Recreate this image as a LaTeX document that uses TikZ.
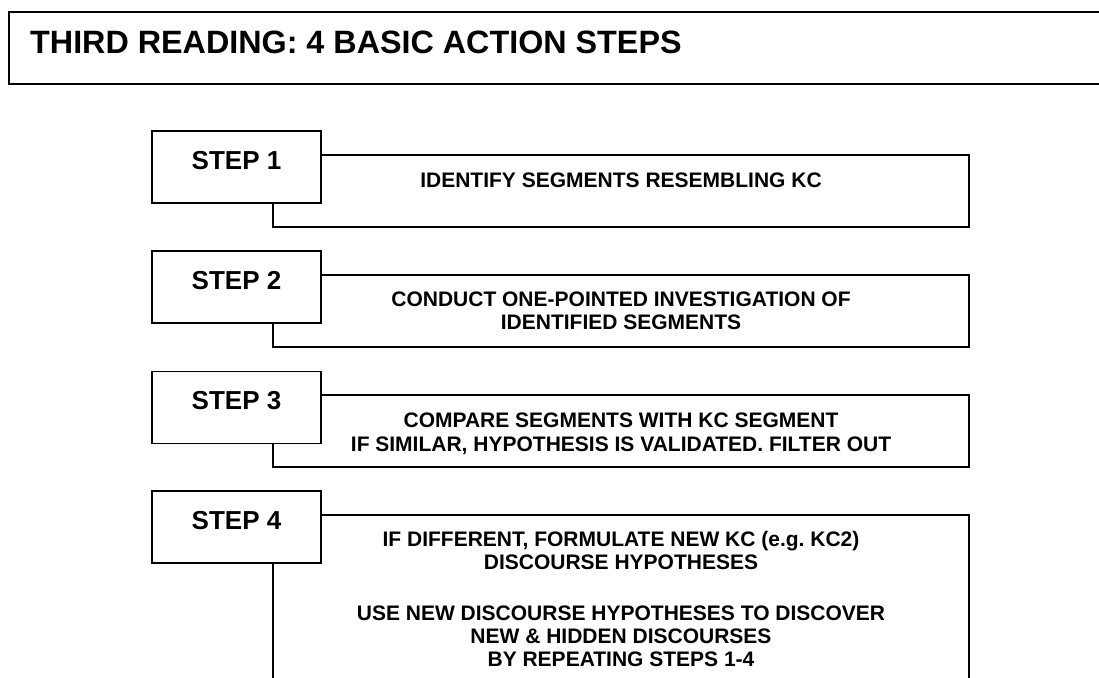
\documentclass[tikz,border=0pt]{standalone}
\usepackage{fontspec}
\setmainfont{Liberation Sans}
\frenchspacing
\begin{document}
\begin{tikzpicture}[x=1pt,y=-1pt,
  stepbox/.style={draw, line width=1.2pt, fill=white, minimum width=169pt, minimum height=72pt, inner sep=0pt},
  textbox/.style={draw, line width=1.2pt, fill=white, minimum width=696pt, inner sep=0pt},
  steplabel/.style={font=\bfseries\fontsize{26}{30}\selectfont, anchor=base, inner sep=0pt},
  body/.style={font=\bfseries\fontsize{21}{23}\selectfont, anchor=base, inner sep=0pt},
]
\useasboundingbox (0,0) rectangle (1099,677);
\clip (0,0) rectangle (1099,677);

% title
\node (titlebox) [draw, line width=1.6pt, minimum width=1112pt, minimum height=72pt, anchor=north west, inner sep=0pt] at (8,11) {};
\node (title) [anchor=base west, inner sep=0pt, font=\bfseries\fontsize{32.3}{36}\selectfont] at (30,53) {THIRD READING: 4 BASIC ACTION STEPS};

% step 1
\node (t1) [textbox, minimum height=72pt] at (621,191) {};
\node (s1) [stepbox] at (236.5,167) {};
\node (l1) [steplabel] at (236.5,169) {STEP 1};
\node (b1) [body] at (621,187) {IDENTIFY SEGMENTS RESEMBLING KC};

% step 2
\node (t2) [textbox, minimum height=72pt] at (621,311) {};
\node (s2) [stepbox] at (236.5,287) {};
\node (l2) [steplabel] at (236.5,289) {STEP 2};
\node (b2a) [body] at (621,306) {CONDUCT ONE-POINTED INVESTIGATION OF};
\node (b2b) [body] at (621,329) {IDENTIFIED SEGMENTS};

% step 3
\node (t3) [textbox, minimum height=72pt] at (621,431) {};
\node (s3) [stepbox] at (236.5,407.5) {};
\node (l3) [steplabel] at (236.5,409.5) {STEP 3};
\node (b3a) [body] at (621,427) {COMPARE SEGMENTS WITH KC SEGMENT};
\node (b3b) [body] at (621,451) {IF SIMILAR, HYPOTHESIS IS VALIDATED. FILTER OUT};

% step 4
\node (t4) [textbox, minimum height=190pt] at (621,610) {};
\node (s4) [stepbox] at (236.5,527) {};
\node (l4) [steplabel] at (236.5,529) {STEP 4};
\node (b4a) [body] at (621,546) {IF DIFFERENT, FORMULATE NEW KC (e.g. KC2)};
\node (b4b) [body] at (621,569) {DISCOURSE HYPOTHESES};
\node (b4c) [body] at (621,620) {USE NEW DISCOURSE HYPOTHESES TO DISCOVER};
\node (b4d) [body] at (621,643) {NEW \& HIDDEN DISCOURSES};
\node (b4e) [body] at (621,666) {BY REPEATING STEPS 1-4};
\end{tikzpicture}
\end{document}
